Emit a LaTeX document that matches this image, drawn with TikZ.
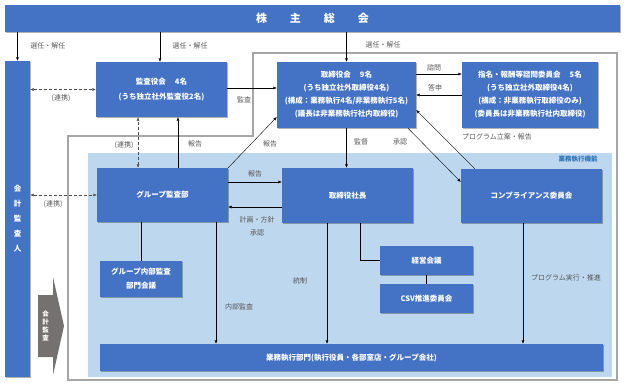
\documentclass[tikz,border=0pt]{standalone}
\usepackage{fontspec}
\setmainfont{Noto Sans CJK JP}
\usetikzlibrary{arrows.meta,shadows}
\definecolor{boxblue}{HTML}{4472C4}
\definecolor{areablue}{HTML}{BDD7EE}
\definecolor{framegray}{HTML}{A6A6A6}
\definecolor{labelgray}{HTML}{595959}
\definecolor{arrowgray}{HTML}{767171}
\definecolor{titleblue}{HTML}{2E75B6}
\begin{document}
\begin{tikzpicture}[x=1pt, y=-1pt,
		bluebox/.style={fill=boxblue, text=white, font=\bfseries\fontsize{7.5}{13}\selectfont, align=center, inner sep=0pt,
			drop shadow={shadow xshift=1pt, shadow yshift=-1pt, opacity=0.3, fill=black}},
		lbl/.style={text=labelgray, font=\fontsize{7}{9}\selectfont, inner sep=0pt},
		arr/.style={-{Latex[length=3.5pt, width=3pt]}, thin},
		dblarr/.style={{Latex[length=3.5pt, width=3pt]}-{Latex[length=3.5pt, width=3pt]}, densely dashed, thin, black!70}]
		\useasboundingbox[fill=white] (0,0) rectangle (625,386);

		\draw[framegray, line width=1.5pt] (253,53) -- (617,53) -- (617,380) -- (68,380) -- (68,136) -- (253,136) -- cycle;
		\fill[areablue] (88,153) rectangle (612,377);
		\node[text=titleblue, font=\bfseries\fontsize{6.5}{8}\selectfont, inner sep=0pt] (kinou) at (578,159) {業務執行機能};

		\node[bluebox, minimum width=615pt, minimum height=27pt, font=\bfseries\fontsize{11}{13}\selectfont] (soukai) at (312.5,18.5)
			{株\hspace{23pt}主\hspace{23pt}総\hspace{23pt}会};
		\node[bluebox, minimum width=25pt, minimum height=316pt, font=\bfseries\fontsize{7.5}{15}\selectfont] (kaikei) at (17.5,219)
			{会\\計\\監\\査\\人};
		\node[bluebox, minimum width=131pt, minimum height=55pt, font=\bfseries\fontsize{7.5}{15}\selectfont] (kansa) at (161.5,89.5)
			{監査役会\hspace{1.2em}4名\\(うち独立社外監査役2名)};
		\node[bluebox, minimum width=139pt, minimum height=66pt] (torishimari) at (346.5,95)
			{取締役会\hspace{1.2em}9名\\(うち独立社外取締役4名)\\(構成：業務執行4名/非業務執行5名)\\(議長は非業務執行社内取締役)};
		\node[bluebox, minimum width=136pt, minimum height=66pt] (shimei) at (530,95)
			{指名・報酬等諮問委員会\hspace{1.2em}5名\\(うち独立社外取締役4名)\\(構成：非業務執行取締役のみ)\\(委員長は非業務執行社内取締役)};
		\node[bluebox, minimum width=131pt, minimum height=54pt] (grpkansa) at (162.5,195) {グループ監査部};
		\node[bluebox, minimum width=131pt, minimum height=55pt] (shachou) at (347.5,195.5) {取締役社長};
		\node[bluebox, minimum width=141pt, minimum height=54pt] (compliance) at (531.5,196) {コンプライアンス委員会};
		\node[bluebox, minimum width=93pt, minimum height=29pt] (keiei) at (426.5,260.5) {経営会議};
		\node[bluebox, minimum width=93pt, minimum height=29pt] (csv) at (426.5,298.5) {CSV推進委員会};
		\node[bluebox, minimum width=82pt, minimum height=36pt, font=\bfseries\fontsize{7.5}{14}\selectfont] (naibu) at (141,279)
			{グループ内部監査\\部門会議};
		\node[bluebox, minimum width=503pt, minimum height=27pt] (gyomu) at (351.5,357.5)
			{業務執行部門(執行役員・各部室店・グループ会社)};

		\fill[arrowgray] (38,295) -- (53,295) -- (53,277) -- (64,326) -- (53,375) -- (53,357) -- (38,357) -- cycle;
		\node[text=white, font=\bfseries\fontsize{6.5}{8}\selectfont, align=center, inner sep=0pt] (kaikeikansa) at (45.5,326)
			{会\\計\\監\\査};

		\draw[arr] (soukai.south -| kaikei) -- (kaikei.north);
		\draw[arr] (soukai.south -| 160,0) -- (kansa.north -| 160,0);
		\draw[arr] (soukai.south -| torishimari) -- (torishimari.north);
		\draw[dblarr] (kaikei.east |- kansa) -- (kansa.west);
		\draw[arr] (kansa.east |- 0,88) -- (torishimari.west |- 0,88);
		\draw[dblarr] (grpkansa.north -| 138,0) -- (kansa.south -| 138,0);
		\draw[arr] (grpkansa.north -| 178,0) -- (kansa.south -| 178,0);
		\draw[arr] (grpkansa.north east) -- (torishimari.west |- 0,117);
		\draw[dblarr] (kaikei.east |- grpkansa) -- (grpkansa.west);
		\draw[arr] (grpkansa.east |- 0,182) -- (shachou.west |- 0,182);
		\draw[arr] (shachou.west |- 0,207) -- (grpkansa.east |- 0,207);
		\draw[arr] (torishimari.south) -- (shachou.north -| torishimari.south);
		\draw[arr] (torishimari.south -| 408,0) -- (compliance.west |- 0,182);
		\draw[arr] (compliance.north -| 475,0) -- (torishimari.east |- 0,110);
		\draw[arr] (torishimari.east |- 0,74) -- (shimei.west |- 0,74);
		\draw[arr] (shimei.west |- 0,95) -- (torishimari.east |- 0,95);
		\draw (grpkansa.south -| naibu) -- (naibu.north);
		\draw[arr] (grpkansa.south -| 216,0) -- (gyomu.north -| 216,0);
		\draw[arr] (shachou.south -| 327,0) -- (gyomu.north -| 327,0);
		\draw (shachou.south -| 360,0) |- (keiei.west);
		\draw (keiei.south) -- (csv.north);
		\draw[arr] (compliance.south -| 523,0) -- (gyomu.north -| 523,0);

		\node[lbl] (sennin1) at (48,46) {選任・解任};
		\node[lbl] (sennin2) at (190,46) {選任・解任};
		\node[lbl] (sennin3) at (383,45) {選任・解任};
		\node[lbl] (renkei1) at (61,98) {(連携)};
		\node[lbl] (kansalbl) at (244,100) {監査};
		\node[lbl] (renkei2) at (124,145) {(連携)};
		\node[lbl] (houkoku1) at (195,144) {報告};
		\node[lbl] (houkoku2) at (270,144) {報告};
		\node[lbl] (shimon) at (434,68) {諮問};
		\node[lbl] (toushin) at (435,88) {答申};
		\node[lbl] (kantoku) at (361,142) {監督};
		\node[lbl] (shounin1) at (400,142) {承認};
		\node[lbl] (ritsuan) at (497,137) {プログラム立案・報告};
		\node[lbl] (houkoku3) at (255,174) {報告};
		\node[lbl, align=center, font=\fontsize{7}{13}\selectfont] (keikaku) at (257,226.5) {計画・方針\\承認};
		\node[lbl] (renkei3) at (53,204) {(連携)};
		\node[lbl] (tousei) at (300,281) {統制};
		\node[lbl] (naibukansa) at (239,307) {内部監査};
		\node[lbl] (jikkou) at (566,278) {プログラム実行・推進};
\end{tikzpicture}
\end{document}
